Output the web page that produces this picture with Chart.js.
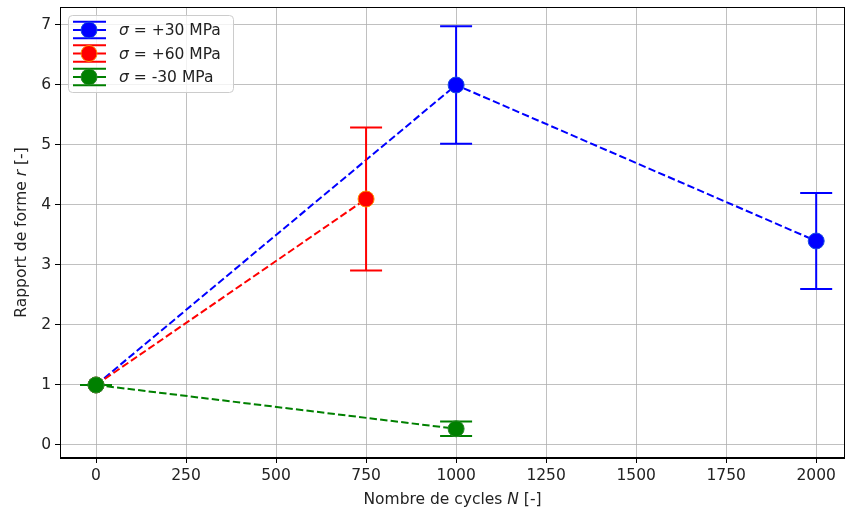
<!DOCTYPE html>
<html><head><meta charset="utf-8">
<script src="https://cdn.jsdelivr.net/npm/chart.js@4/dist/chart.umd.min.js"></script>
<style>html,body{margin:0;padding:0;background:#fff}#wrap{width:845px;height:513px}</style>
</head><body><div id="wrap"><canvas id="c" width="845" height="513"></canvas></div>
<script>
const xTicks=[0,250,500,750,1000,1250,1500,1750,2000];
const yTicks=[0,1,2,3,4,5,6,7];
const seriesNames=['+30 MPa','+60 MPa','-30 MPa'];
const xBlue=[0,1000,2000], yBlue=[1,6.0,3.4], eBlue=[0,0.98,0.8];
const xRed=[0,750], yRed=[1,4.1], eRed=[0,1.19];
const xGreen=[0,1000], yGreen=[1,0.27], eGreen=[0,0.12];

const FONT='"DejaVu Sans", sans-serif';
const FS=15.5;
function pts(xs,ys){return xs.map((x,i)=>({x:x,y:ys[i]}));}
const errs=[eBlue,eRed,eGreen];
const cols=['#0000ff','#ff0000','#008000'];
const edges=['#1a4fe0','#ff8c00','#2a8a2a'];

const errPlugin={id:'err',
 beforeDatasetDraw(chart,args){
  const i=args.index, ds=chart.data.datasets[i], xs=chart.scales.x, ys=chart.scales.y, ctx=chart.ctx;
  ctx.save();ctx.strokeStyle=cols[i];ctx.lineWidth=2;
  ds.data.forEach((p,k)=>{
    const e=errs[i][k], px=xs.getPixelForValue(p.x), y1=ys.getPixelForValue(p.y+e), y2=ys.getPixelForValue(p.y-e);
    ctx.beginPath();ctx.moveTo(px,y1);ctx.lineTo(px,y2);
    ctx.moveTo(px-16,y1);ctx.lineTo(px+16,y1);ctx.moveTo(px-16,y2);ctx.lineTo(px+16,y2);ctx.stroke();
  });
  ctx.restore();
 },
 afterDraw(chart){
  const ctx=chart.ctx,a=chart.chartArea;
  ctx.save();
  ctx.strokeStyle='#000';ctx.lineWidth=1;
  ctx.strokeRect(Math.round(a.left)+0.5,Math.round(a.top)+0.5,Math.round(a.right-a.left)-1,Math.round(a.bottom-a.top)-1);
  ctx.fillStyle='#222';ctx.textBaseline='alphabetic';
  function mixed(parts,cx,cy){
    let w=0;parts.forEach(p=>{ctx.font=(p[1]?'italic ':'')+FS+'px '+FONT;w+=ctx.measureText(p[0]).width;});
    let x=cx-w/2;ctx.textAlign='left';
    parts.forEach(p=>{ctx.font=(p[1]?'italic ':'')+FS+'px '+FONT;ctx.fillText(p[0],x,cy);x+=ctx.measureText(p[0]).width;});
  }
  mixed([['Nombre de cycles ',0],['N',1],[' [-]',0]],(a.left+a.right)/2,504);
  ctx.save();ctx.translate(26,(a.top+a.bottom)/2);ctx.rotate(-Math.PI/2);
  mixed([['Rapport de forme ',0],['r',1],[' [-]',0]],0,0);ctx.restore();
  // legend
  const lx=68,ly=15,lw=165,lh=77;
  ctx.beginPath();ctx.roundRect(lx+0.5,ly+0.5,lw,lh,4);
  ctx.fillStyle='rgba(255,255,255,0.8)';ctx.fill();ctx.strokeStyle='#cccccc';ctx.lineWidth=1;ctx.stroke();
  seriesNames.forEach((n,i)=>{
    const cy=30+i*23.5, cx=89;
    ctx.strokeStyle=cols[i];ctx.lineWidth=2;ctx.beginPath();
    ctx.moveTo(73,cy);ctx.lineTo(106,cy);ctx.moveTo(cx,cy-8);ctx.lineTo(cx,cy+8);
    ctx.moveTo(73,cy-8.3);ctx.lineTo(106,cy-8.3);ctx.moveTo(73,cy+8.3);ctx.lineTo(106,cy+8.3);ctx.stroke();
    ctx.beginPath();ctx.arc(cx,cy,8,0,Math.PI*2);ctx.fillStyle=cols[i];ctx.fill();ctx.strokeStyle=edges[i];ctx.lineWidth=1;ctx.stroke();
    ctx.fillStyle='#222';ctx.textAlign='left';ctx.textBaseline='middle';
    ctx.font='italic '+FS+'px '+FONT;ctx.fillText('σ',119,cy+1);
    const w=ctx.measureText('σ').width;ctx.font=FS+'px '+FONT;ctx.fillText(' = '+n,119+w,cy+1);
  });
  ctx.restore();
 }};

function mk(label,xs,ys,i,ord){return {label:label,data:pts(xs,ys),showLine:true,borderColor:cols[i],borderWidth:2,borderDash:[7.4,3.2],
 pointRadius:8,pointHoverRadius:8,pointBackgroundColor:cols[i],pointBorderColor:edges[i],pointBorderWidth:1,order:ord,fill:false,tension:0};}

function fitX(s){s.height=55;s.paddingLeft=0;s.paddingRight=0;}
function fitY(s){s.width=60;s.paddingTop=0;s.paddingBottom=0;}

new Chart(document.getElementById('c'),{type:'scatter',
 data:{datasets:[mk('σ = +30 MPa',xBlue,yBlue,0,3),mk('σ = +60 MPa',xRed,yRed,1,2),mk('σ = -30 MPa',xGreen,yGreen,2,1)]},
 options:{responsive:false,animation:false,events:[],
  layout:{autoPadding:false,padding:{top:7,right:0,left:0,bottom:0}},
  plugins:{legend:{display:false},tooltip:{enabled:false}},
  scales:{
   x:{type:'linear',min:-100,max:2080,
    afterBuildTicks(s){s.ticks=xTicks.map(v=>({value:v}));},
    afterFit:fitX,
    grid:{color:'#b0b0b0',lineWidth:0.8,tickColor:'#000',tickLength:5,tickWidth:1},
    border:{display:true,color:'#000',width:1},
    ticks:{color:'#222',font:{family:FONT,size:FS},padding:4,maxRotation:0,autoSkip:false,callback:v=>String(v)}},
   y:{type:'linear',min:-0.217,max:7.3,
    afterBuildTicks(s){s.ticks=yTicks.map(v=>({value:v}));},
    afterFit:fitY,
    grid:{color:'#b0b0b0',lineWidth:0.8,tickColor:'#000',tickLength:5,tickWidth:1},
    border:{display:true,color:'#000',width:1},
    ticks:{color:'#222',font:{family:FONT,size:FS},padding:4,autoSkip:false,callback:v=>String(v)}}
  }},
 plugins:[errPlugin]});
</script></body></html>
